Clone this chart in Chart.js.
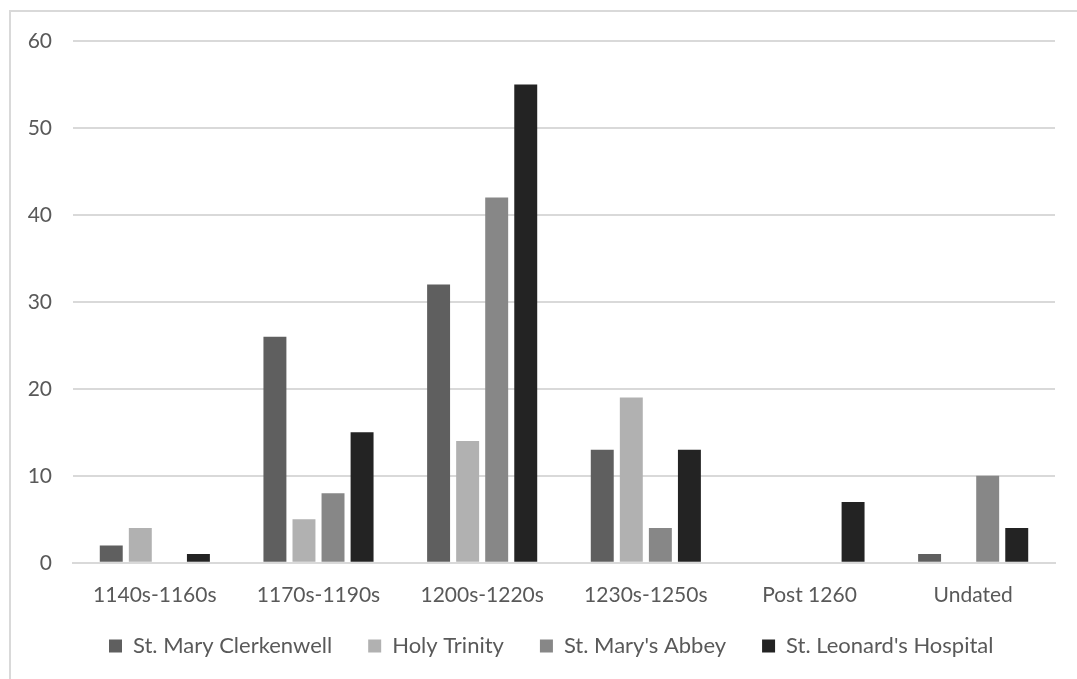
<!DOCTYPE html>
<html><head><meta charset="utf-8">
<script src="https://cdn.jsdelivr.net/npm/chart.js@4/dist/chart.umd.min.js"></script>
<style>
html,body{margin:0;padding:0;background:#fff;overflow:hidden;}
#frame{position:absolute;left:9px;top:10px;width:1200px;height:800px;border:2px solid #d9d9d9;box-sizing:border-box;}
#c{position:absolute;left:0;top:0;}
</style></head>
<body>
<div id="frame"></div>
<canvas id="c" width="1077" height="679"></canvas>
<script>
const categories = ["1140s-1160s","1170s-1190s","1200s-1220s","1230s-1250s","Post 1260","Undated"];
const clerkenwell = [2,26,32,13,0,1];
const holyTrinity = [4,5,14,19,0,0];
const marysAbbey = [0,8,42,4,0,10];
const leonards = [1,15,55,13,7,4];
const seriesNames = ["St. Mary Clerkenwell","Holy Trinity","St. Mary's Abbey","St. Leonard's Hospital"];
const seriesColors = ["#5f5f5f","#b1b1b1","#878787","#232323"];
const yTicks = [0,10,20,30,40,50,60];

const fontFam = "Lato, 'Open Sans', sans-serif";
const LEGEND_SHIFT = 29;
const legendShift = {
  id: 'legendShift',
  beforeLayout(chart) {
    const lg = chart.legend;
    if (lg && !lg._patched) {
      const f = lg.fit;
      lg.fit = function () { f.call(this); this.height -= LEGEND_SHIFT; };
      lg._patched = true;
    }
  },
  afterLayout(chart) {
    const lg = chart.legend;
    if (lg) { lg.top -= LEGEND_SHIFT; lg.height += LEGEND_SHIFT; }
  }
};
const data = [clerkenwell, holyTrinity, marysAbbey, leonards];
new Chart(document.getElementById('c'), {
  type: 'bar',
  data: {
    labels: categories,
    datasets: data.map((d,i)=>({label: seriesNames[i], data: d, backgroundColor: seriesColors[i], borderWidth:0,
      categoryPercentage: 0.71, barPercentage: 0.79}))
  },
  plugins: [legendShift],
  options: {
    responsive: false,
    animation: false,
    layout: {padding: {left: 0, right: 22, top: 41, bottom: 12}},
    plugins: {
      tooltip: {enabled:false},
      legend: {position:'bottom', fullSize:false, align:'start',
        labels: {boxWidth: 13, boxHeight: 13, padding: 36, color:'#595959', font:{family:fontFam, size:22}}}
    },
    scales: {
      x: {grid:{display:false, drawTicks:false}, border:{color:'#d9d9d9', width:2},
          ticks:{color:'#595959', font:{family:fontFam, size:21}, padding: 20}},
      y: {min:0, max:60, grid:{color:'#d9d9d9', lineWidth:2, drawTicks:false}, border:{display:false},
          afterBuildTicks: s => { s.ticks = yTicks.map(v=>({value:v})); },
          afterFit: s => { s.width = 73; },
          ticks:{color:'#595959', font:{family:fontFam, size:21}, padding: 21}}
    }
  }
});
</script>
</body></html>
